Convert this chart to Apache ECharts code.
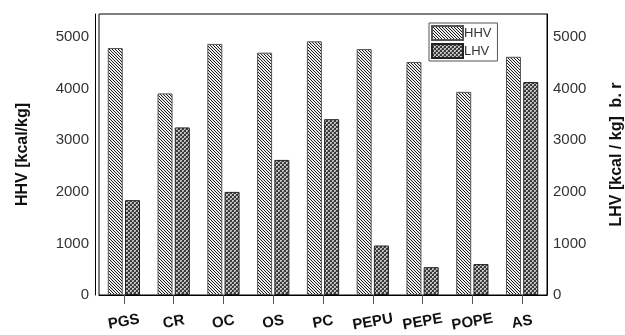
<!DOCTYPE html>
<html><head><meta charset="utf-8">
<script src="https://cdn.jsdelivr.net/npm/echarts@6/dist/echarts.min.js"></script>
<style>html,body{margin:0;padding:0;background:#fff}#c{width:625px;height:335px}</style>
</head><body><div id="c"></div>
<script>
const categories = ['PGS','CR','OC','OS','PC','PEPU','PEPE','POPE','AS'];
const hhv = [4790,3910,4870,4700,4920,4770,4520,3940,4620];
const lhv = [1840,3250,2000,2620,3410,960,540,600,4130];
const yTicks = [0,1000,2000,3000,4000,5000];

function hatch(){
  const c=document.createElement('canvas');c.width=3;c.height=3;
  const g=c.getContext('2d');g.fillStyle='#eeeeee';g.fillRect(0,0,3,3);
  g.strokeStyle='#1a1a1a';g.lineWidth=1;
  g.beginPath();g.moveTo(-1,-1);g.lineTo(4,4);g.stroke();
  g.beginPath();g.moveTo(-1,2);g.lineTo(1,4);g.stroke();
  g.beginPath();g.moveTo(2,-1);g.lineTo(4,1);g.stroke();
  return {image:c,repeat:'repeat'};
}
function cross(){
  const c=document.createElement('canvas');c.width=4;c.height=4;
  const g=c.getContext('2d');g.fillStyle='#3a3a3a';g.fillRect(0,0,4,4);
  g.fillStyle='#c8c8c8';g.fillRect(0,0,2,2);g.fillRect(2,2,2,2);
  g.fillStyle='#888';g.fillRect(1,1,1,1);g.fillRect(3,3,1,1);
  return {image:c,repeat:'repeat'};
}
const font='Liberation Sans';
const chart=echarts.init(document.getElementById('c'));
chart.setOption({
  animation:false,
  textStyle:{fontFamily:font},
  grid:{left:99,right:78,top:14,bottom:40,show:true,borderColor:'#000',borderWidth:1,
    outerBoundsMode:'none',containLabel:false},
  legend:{left:429,top:23,orient:'vertical',itemWidth:31,itemHeight:14,itemGap:2,
    icon:'rect',
    padding:[2,6,2,2],borderColor:'#555',borderWidth:1,
    textStyle:{fontSize:13,color:'#333',fontFamily:font,padding:[0,0,0,-4]},
    data:['HHV','LHV']},
  xAxis:{type:'category',data:categories,
    axisLine:{lineStyle:{color:'#000',width:1}},
    axisTick:{show:true,alignWithLabel:true,length:9,lineStyle:{color:'#555'}},
    axisLabel:{rotate:10,fontWeight:'bold',fontSize:15,color:'#111',margin:27,interval:0,
      align:'center',verticalAlign:'middle'}},
  yAxis:[
    {type:'value',min:0,max:5450,interval:1000,offset:4,
     name:'HHV [kcal/kg]',nameLocation:'middle',nameGap:64,nameRotate:90,
     nameTextStyle:{fontSize:16,fontWeight:'bold',color:'#111'},
     axisLine:{show:true,lineStyle:{color:'#000'}},axisTick:{show:false},splitLine:{show:false},
     axisLabel:{fontSize:15,color:'#333',margin:6,
       formatter:v=>yTicks.includes(v)?String(v):''}},
    {type:'value',min:0,max:5450,interval:1000,position:'right',
     name:'LHV [kcal / kg]  b. r',nameLocation:'middle',nameGap:62,nameRotate:90,
     nameTextStyle:{fontSize:16,fontWeight:'bold',color:'#111'},
     axisLine:{show:true,lineStyle:{color:'#000'}},axisTick:{show:false},splitLine:{show:false},
     axisLabel:{fontSize:15,color:'#333',margin:6,
       formatter:v=>yTicks.includes(v)?String(v):''}}
  ],
  series:[
    {name:'HHV',type:'bar',data:hhv,yAxisIndex:0,barWidth:15,barGap:'15%',
     itemStyle:{color:hatch(),borderColor:'#555',borderWidth:1}},
    {name:'LHV',type:'bar',data:lhv,yAxisIndex:1,barWidth:15,
     itemStyle:{color:cross(),borderColor:'#222',borderWidth:1}}
  ]
});
</script></body></html>
